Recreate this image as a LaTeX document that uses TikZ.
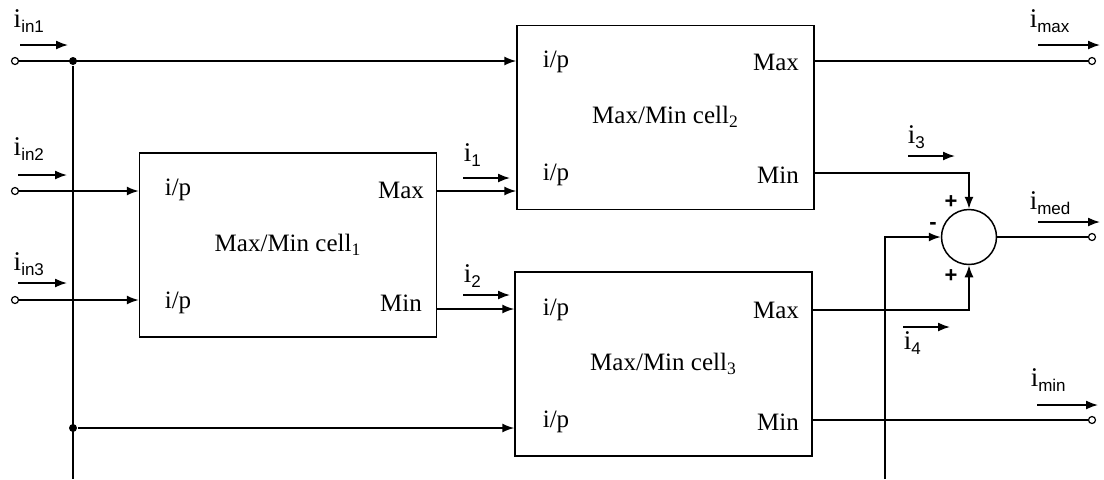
\documentclass[tikz,border=0pt]{standalone}
\usepackage{fontspec}
\setmainfont{Liberation Serif}
\setsansfont{Liberation Sans}
\usetikzlibrary{arrows.meta, calc}

\newcommand{\curr}[1]{{\fontsize{13.5}{15}\selectfont i}\raisebox{-2.5pt}{\sffamily\fontsize{8.5}{10}\selectfont #1}}

\begin{document}
\begin{tikzpicture}[x=0.5pt, y=-0.5pt, >={Latex[length=6pt,width=4.5pt]}, line width=0.75pt,
  cell/.style={draw, minimum width=148.5pt, minimum height=92pt, inner sep=0pt},
  txt/.style={font=\fontsize{12.5}{15}\selectfont, inner sep=0pt},
  sgn/.style={font=\sffamily\bfseries\fontsize{11}{13}\selectfont, inner sep=0pt},
  term/.style={draw, circle, fill=white, inner sep=0pt, minimum size=3.5pt, line width=0.6pt},
  junc/.style={fill, circle, inner sep=0pt, minimum size=4pt},
  sumnode/.style={draw, circle, minimum size=27.5pt, inner sep=0pt},
  cur/.style={->, line width=0.8pt}]

  \useasboundingbox (0,0) rectangle (1104,479);

  % cells
  \node[cell] (cellA) at (288,245) {};
  \node[cell] (cellB) at (665.5,117.5) {};
  \node[cell] (cellC) at (663.5,364) {};

  \node[txt] (nameA) at (288,245) {Max/Min cell\textsubscript{1}};
  \node[txt] (nameB) at (665.5,117) {Max/Min cell\textsubscript{2}};
  \node[txt] (nameC) at (663.5,364) {Max/Min cell\textsubscript{3}};

  \node[txt] (ipA1) at (178,190) {i/p};
  \node[txt] (ipA2) at (178,303) {i/p};
  \node[txt] (mxA) at (401,190) {Max};
  \node[txt] (mnA) at (401,303) {Min};

  \node[txt] (ipB1) at (556,62) {i/p};
  \node[txt] (ipB2) at (556,175) {i/p};
  \node[txt] (mxB) at (776,62) {Max};
  \node[txt] (mnB) at (778,175) {Min};

  \node[txt] (ipC1) at (556,310) {i/p};
  \node[txt] (ipC2) at (556,422) {i/p};
  \node[txt] (mxC) at (776,310) {Max};
  \node[txt] (mnC) at (778,422) {Min};

  % summing junction
  \node[sumnode] (sum) at (969,237) {};
  \node[sgn] (plusT) at (951,202) {+};
  \node[sgn] (minusL) at (933,226) {-};
  \node[sgn] (plusB) at (951,276) {+};

  % terminals and ports
  \node[term] (tIn1) at (15,61) {};
  \node[term] (tIn2) at (15,191) {};
  \node[term] (tIn3) at (15,300) {};
  \node[term] (tMax) at (1092,61) {};
  \node[term] (tMed) at (1092,237) {};
  \node[term] (tMin) at (1092,420) {};

  \coordinate (aMin) at (437,309);
  \coordinate (bMax) at (813,61);
  \coordinate (bMin) at (813,173);
  \coordinate (cMax) at (812,310);
  \coordinate (cMin) at (812,420);
  \coordinate (botA) at (73,479);
  \coordinate (botB) at (885,479);

  \node[junc] (jTop) at (73,61) {};
  \node[junc] (jBot) at (73,428) {};

  % wiring
  \draw[->] (tIn1) -- (tIn1 -| cellB.west);
  \draw (jTop) -- (botA);
  \draw[->] (jBot) -- (jBot -| cellC.west);
  \draw[->] (tIn2) -- (tIn2 -| cellA.west);
  \draw[->] (tIn3) -- (tIn3 -| cellA.west);
  \draw[->] (tIn2 -| cellA.east) -- (tIn2 -| cellB.west);
  \draw[->] (aMin) -- (aMin -| cellC.west);
  \draw (bMax) -- (tMax);
  \draw[->] (bMin) -| (sum.north);
  \draw[->] (cMax) -| (sum.south);
  \draw[->] (botB) |- (sum.west);
  \draw (sum.east) -- (tMed);
  \draw (cMin) -- (tMin);

  % current labels
  \node[txt, anchor=base west] (Lin1) at (13,27) {\curr{in1}};
  \node[txt, anchor=base west] (Lin2) at (13,155) {\curr{in2}};
  \node[txt, anchor=base west] (Lin3) at (13,270) {\curr{in3}};
  \node[txt, anchor=base west] (L1) at (463,161) {\curr{1}};
  \node[txt, anchor=base west] (L2) at (463,282) {\curr{2}};
  \node[txt, anchor=base west] (L3) at (907,143) {\curr{3}};
  \node[txt, anchor=base west] (L4) at (903,349) {\curr{4}};
  \node[txt, anchor=base west] (Lmax) at (1029,27) {\curr{max}};
  \node[txt, anchor=base west] (Lmed) at (1029,209) {\curr{med}};
  \node[txt, anchor=base west] (Lmin) at (1030,386) {\curr{min}};

  \coordinate (aIn1) at (20,45);
  \coordinate (aIn2) at (18,175);
  \coordinate (aIn3) at (18,283);
  \coordinate (a1) at (463,178);
  \coordinate (a2) at (463,295);
  \coordinate (a3) at (908,156);
  \coordinate (a4) at (903,327);
  \coordinate (aMax) at (1038,45);
  \coordinate (aMed) at (1038,222);
  \coordinate (aMn) at (1037,405);

  \draw[cur] (aIn1) -- ++(48,0);
  \draw[cur] (aIn2) -- ++(49,0);
  \draw[cur] (aIn3) -- ++(49,0);
  \draw[cur] (a1) -- ++(47,0);
  \draw[cur] (a2) -- ++(47,0);
  \draw[cur] (a3) -- ++(47,0);
  \draw[cur] (a4) -- ++(47,0);
  \draw[cur] (aMax) -- ++(62,0);
  \draw[cur] (aMed) -- ++(62,0);
  \draw[cur] (aMn) -- ++(61,0);
\end{tikzpicture}
\end{document}
